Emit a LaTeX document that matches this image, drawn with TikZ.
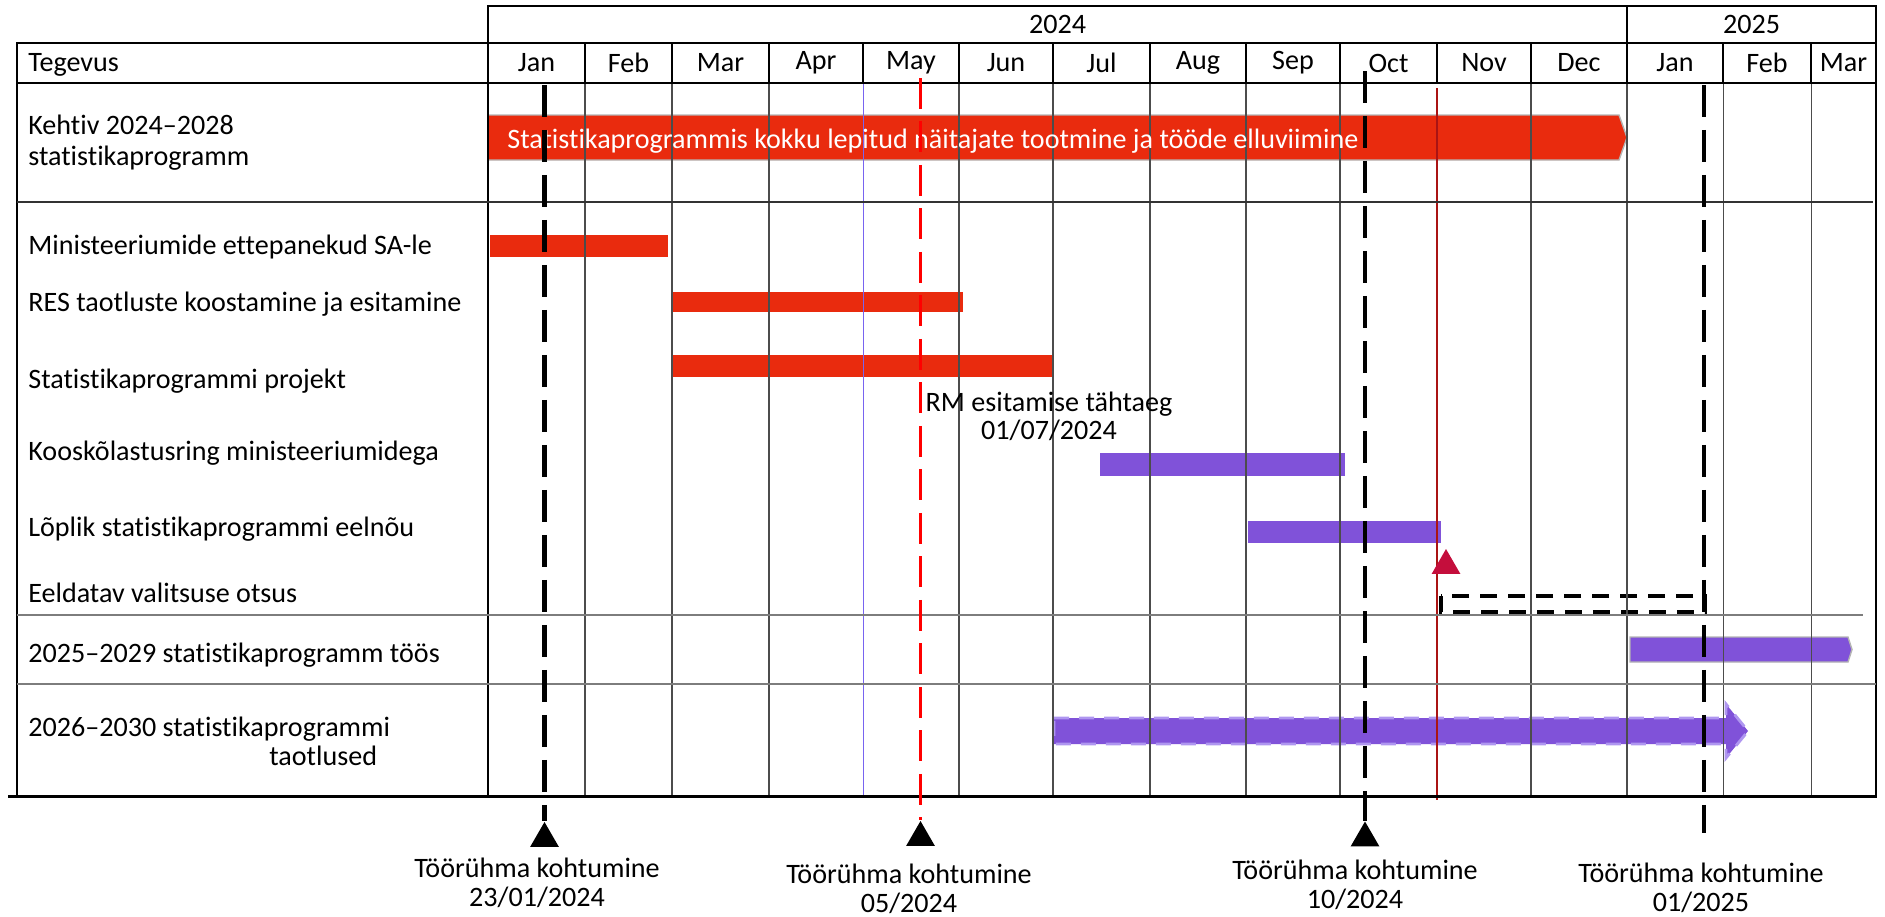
\documentclass[tikz,border=0pt]{standalone}
\usepackage{fontspec}
\setmainfont{Carlito}[Ligatures=NoCommon]
\usepackage{tikz}
\usetikzlibrary{shapes,positioning}
\definecolor{gtred}{RGB}{233,43,14}
\definecolor{gtpurple}{RGB}{128,82,217}
\definecolor{gtlilac}{RGB}{175,150,240}
\definecolor{gtcrimson}{RGB}{196,14,60}
\definecolor{gtgrey}{RGB}{125,125,125}
\definecolor{gtedge}{RGB}{180,180,180}
\definecolor{gtblue}{RGB}{120,100,240}
\definecolor{gtdarkred}{RGB}{170,20,20}
\tikzstyle{month} = [rectangle, draw=black, line width=1.1pt, minimum height=0.8cm, inner sep=0pt, text centered]
\tikzstyle{rowlabel} = [anchor=west, inner sep=0pt, align=left, yshift=-1.2pt]
\tikzstyle{gridline} = [line width=0.6pt, black!70]
\tikzstyle{rowline} = [line width=1.1pt, gtgrey]
\tikzstyle{meeting} = [line width=2.4pt, black, dash pattern=on 0.64cm off 0.26cm]
\tikzstyle{deadline} = [line width=2pt, red, dash pattern=on 0.62cm off 0.25cm]
\tikzstyle{milestone} = [regular polygon, regular polygon sides=3, fill=black, inner sep=0pt, minimum size=0.66cm]
\tikzstyle{meetlabel} = [align=center, inner sep=0pt]

\begin{document}
\begin{tikzpicture}[x=0.02cm, y=-0.02cm, font=\fontsize{16}{16.5}\selectfont]
    \useasboundingbox (0,0) rectangle (1885,916);

    % Bars
    \filldraw[fill=gtred, draw=gtedge, line width=0.8pt] (488,115) -- (1619,115) -- (1627,137.5) -- (1619,160) -- (488,160) -- cycle;
    \fill[gtred] (490,235) rectangle (668,257);
    \fill[gtred] (672,292) rectangle (963,312);
    \fill[gtred] (672,355) rectangle (1054,377);
    \fill[gtpurple] (1100,453) rectangle (1345,476);
    \fill[gtpurple] (1248,521) rectangle (1441,543);
    \draw[line width=2pt, dash pattern=on 0.34cm off 0.22cm] (1441,596) rectangle (1705,612);
    \filldraw[fill=gtpurple, draw=gtedge, line width=0.8pt] (1630,637) -- (1848,637) -- (1852,649.5) -- (1848,662) -- (1630,662) -- cycle;
    \filldraw[fill=gtpurple, draw=gtlilac, line width=1.6pt, dash pattern=on 0.3cm off 0.2cm] (1054,718) -- (1726,718) -- (1726,704) -- (1748,731) -- (1726,758) -- (1726,744) -- (1054,744) -- cycle;

    % Month grid
    \draw[gridline] (585,83) -- (585,796) (672,83) -- (672,796) (769,83) -- (769,796)
        (959,83) -- (959,796) (1053,83) -- (1053,796) (1150,83) -- (1150,796)
        (1246,83) -- (1246,796) (1340,83) -- (1340,796) (1531,83) -- (1531,796)
        (1627,83) -- (1627,796) (1723,83) -- (1723,796) (1811,83) -- (1811,796);
    \draw[line width=0.5pt, gtblue] (863,83) -- (863,796);
    \draw[line width=0.6pt, gtdarkred] (1437,88) -- (1437,800);

    % Frame and rows
    \draw[line width=1.1pt] (17,83) -- (17,796);
    \draw[line width=1.1pt] (488,83) -- (488,796);
    \draw[line width=1.4pt] (1876,6) -- (1876,798);
    \draw[line width=0.8pt, black!80] (17,202) -- (1873,202);
    \draw[rowline] (17,615) -- (1863,615);
    \draw[rowline] (17,684) -- (1876,684);
    \draw[line width=1.7pt] (8,796) -- (1876,796);

    % Years
    \node[month, minimum width=22.78cm, minimum height=0.74cm] (y2024) at (1057.5,24.5) {2024};
    \node[month, minimum width=4.98cm, minimum height=0.74cm] (y2025) at (1751.5,24.5) {2025};

    % Months
    \node[month, minimum width=9.42cm] (hdrcell) at (252.5,63) {};
    \node[month, minimum width=1.94cm] (jan) at (536.5,63) {Jan};
    \node[month, minimum width=1.74cm] (feb) at (628.5,63) {Feb};
    \node[month, minimum width=1.94cm] (mar) at (720.5,63) {Mar};
    \node[month, minimum width=1.88cm] (apr) at (816,63) {Apr};
    \node[month, minimum width=1.92cm] (may) at (911,63) {May};
    \node[month, minimum width=1.88cm] (jun) at (1006,63) {Jun};
    \node[month, minimum width=1.94cm] (jul) at (1101.5,63) {Jul};
    \node[month, minimum width=1.92cm] (aug) at (1198,63) {Aug};
    \node[month, minimum width=1.88cm] (sep) at (1293,63) {Sep};
    \node[month, minimum width=1.94cm] (oct) at (1388.5,63) {Oct};
    \node[month, minimum width=1.88cm] (nov) at (1484,63) {Nov};
    \node[month, minimum width=1.92cm] (dec) at (1579,63) {Dec};
    \node[month, minimum width=1.92cm] (jannext) at (1675,63) {Jan};
    \node[month, minimum width=1.76cm] (febnext) at (1767,63) {Feb};
    \node[month, minimum width=1.30cm] (marnext) at (1843.5,63) {Mar};

    % Activities
    \node[rowlabel] (hdr) at (28,63) {Tegevus};
    \node[rowlabel, font=\fontsize{16}{17.6}\selectfont] (current) at (28,140.5) {Kehtiv 2024–2028\\statistikaprogramm};
    \node[rowlabel] (proposals) at (28,245) {Ministeeriumide ettepanekud SA-le};
    \node[rowlabel] (res) at (28,302) {RES taotluste koostamine ja esitamine};
    \node[rowlabel] (project) at (28,379) {Statistikaprogrammi projekt};
    \node[rowlabel] (consult) at (28,451) {Kooskõlastusring ministeeriumidega};
    \node[rowlabel] (final) at (28,527) {Lõplik statistikaprogrammi eelnõu};
    \node[rowlabel] (decision) at (28,591) {Eeldatav valitsuse otsus};
    \node[rowlabel] (running) at (28,653) {2025–2029 statistikaprogramm töös};
    \node[rowlabel] (nextapp) at (28,739.5) {2026–2030 statistikaprogrammi\\\hspace*{4.82cm}taotlused};

    \node[rowlabel, text=white] (plantxt) at (507,139) {Statistikaprogrammis kokku lepitud näitajate tootmine ja tööde elluviimine};
    \node[meetlabel, font=\fontsize{16}{15.9}\selectfont] (rmdue) at (1049,416) {RM esitamise tähtaeg\\01/07/2024};
    \node[milestone, fill=gtcrimson] (govt) at (1446,565.5) {};

    % Meetings
    \coordinate (jan24top) at (544.5,85);
    \coordinate (may24top) at (920.5,78);
    \coordinate (oct24top) at (1365,71);
    \coordinate (jan25top) at (1704,85);
    \coordinate (jan25end) at (1704,833);
    \node[milestone] (jan24) at (544.5,838.5) {};
    \node[milestone] (may24) at (920.5,837.5) {};
    \node[milestone] (oct24) at (1365,838) {};
    \draw[meeting] (jan24top) -- (jan24.north);
    \draw[deadline] (may24top) -- (may24.north);
    \draw[meeting] (oct24top) -- (oct24.north);
    \draw[meeting] (jan25top) -- (jan25end);

    \node[meetlabel] (jan24lbl) at (537,882.5) {Töörühma kohtumine\\23/01/2024};
    \node[meetlabel] (may24lbl) at (909,888.5) {Töörühma kohtumine\\05/2024};
    \node[meetlabel] (oct24lbl) at (1355,885) {Töörühma kohtumine\\10/2024};
    \node[meetlabel] (jan25lbl) at (1701,888) {Töörühma kohtumine\\01/2025};
\end{tikzpicture}
\end{document}
